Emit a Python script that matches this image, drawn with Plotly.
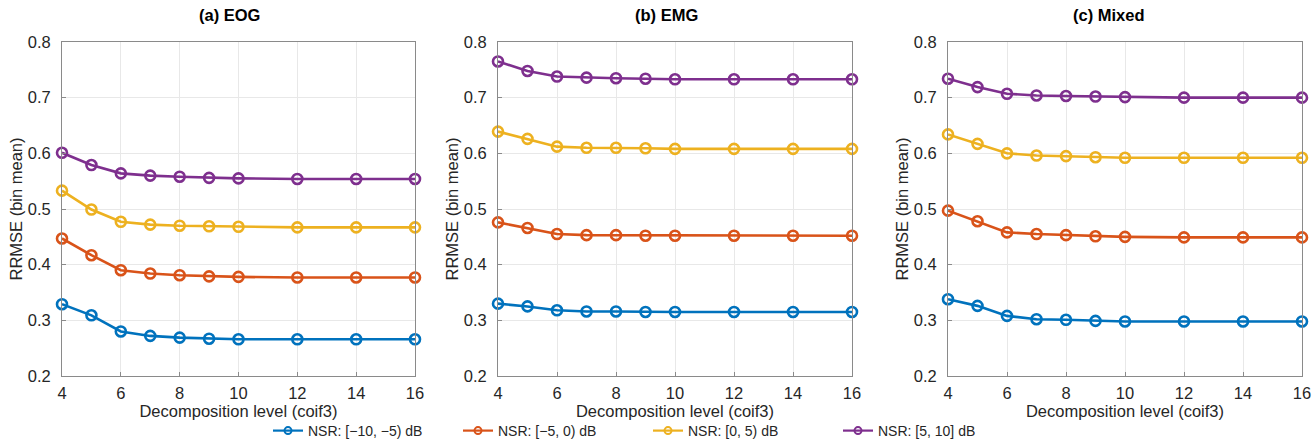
import plotly.graph_objects as go

levels = [4, 5, 6, 7, 8, 9, 10, 12, 14, 16]
series_names = ["NSR: [\u221210, \u22125) dB", "NSR: [\u22125, 0) dB", "NSR: [0, 5) dB", "NSR: [5, 10] dB"]
colors = ["#0072BD", "#D95319", "#EDB120", "#7E2F8E"]
panel_titles = ["(a) EOG", "(b) EMG", "(c) Mixed"]

eog_m10 = [0.329, 0.309, 0.280, 0.272, 0.269, 0.267, 0.266, 0.266, 0.266, 0.266]
eog_m5 = [0.447, 0.417, 0.390, 0.384, 0.381, 0.379, 0.378, 0.377, 0.377, 0.377]
eog_0 = [0.533, 0.499, 0.477, 0.472, 0.470, 0.469, 0.468, 0.467, 0.467, 0.467]
eog_5 = [0.601, 0.579, 0.564, 0.560, 0.558, 0.556, 0.555, 0.554, 0.554, 0.554]

emg_m10 = [0.330, 0.325, 0.318, 0.316, 0.316, 0.315, 0.315, 0.315, 0.315, 0.315]
emg_m5 = [0.476, 0.466, 0.455, 0.453, 0.453, 0.452, 0.452, 0.452, 0.452, 0.452]
emg_0 = [0.639, 0.626, 0.612, 0.610, 0.610, 0.609, 0.608, 0.608, 0.608, 0.608]
emg_5 = [0.765, 0.748, 0.738, 0.736, 0.735, 0.734, 0.733, 0.733, 0.733, 0.733]

mix_m10 = [0.338, 0.326, 0.308, 0.302, 0.301, 0.299, 0.298, 0.298, 0.298, 0.298]
mix_m5 = [0.497, 0.478, 0.458, 0.455, 0.453, 0.451, 0.450, 0.449, 0.449, 0.449]
mix_0 = [0.634, 0.617, 0.600, 0.596, 0.595, 0.593, 0.592, 0.592, 0.592, 0.592]
mix_5 = [0.734, 0.719, 0.707, 0.704, 0.703, 0.702, 0.701, 0.700, 0.700, 0.700]

panels = [
    [eog_m10, eog_m5, eog_0, eog_5],
    [emg_m10, emg_m5, emg_0, emg_5],
    [mix_m10, mix_m5, mix_0, mix_5],
]

W, H = 1313, 447
MB = 12                      # bottom margin (room for legend)
PH = H - MB                  # plot-area height in px
x_dom_px = [(62, 415), (498, 852), (948, 1302)]
title_x_px = [229, 666, 1109]
y_dom_px = (42, 376)


def fy(px_from_top):
    return (PH - px_from_top) / PH


fig = go.Figure()
font = "Liberation Sans, Arial, sans-serif"
tick_color = "#262626"
axis_color = "#8a8a8a"

for p, series in enumerate(panels):
    xa = "x" if p == 0 else f"x{p+1}"
    ya = "y" if p == 0 else f"y{p+1}"
    for s, vals in enumerate(series):
        fig.add_trace(go.Scatter(
            x=levels, y=vals, xaxis=xa, yaxis=ya,
            mode="lines+markers", name=series_names[s],
            line=dict(color=colors[s], width=2.6),
            marker=dict(symbol="circle-open", size=10, color=colors[s], line=dict(width=2.6, color=colors[s])),
            cliponaxis=False, showlegend=False,
        ))
    axis_common = dict(showline=True, linecolor=axis_color, linewidth=1, mirror=True,
                       showgrid=True, gridcolor="#E8E8E8", gridwidth=1, zeroline=False,
                       ticks="inside", ticklen=4, tickcolor=axis_color, automargin=False,
                       tickfont=dict(family=font, size=16.5, color=tick_color))
    x0, x1 = x_dom_px[p]
    fig.layout[("xaxis" if p == 0 else f"xaxis{p+1}")] = dict(
        domain=[x0 / W, x1 / W], range=[4, 16], tickvals=[4, 6, 8, 10, 12, 14, 16],
        anchor=ya, ticklabelstandoff=2,
        title=dict(text="Decomposition level (coif3)", font=dict(family=font, size=16.5, color=tick_color), standoff=2),
        **axis_common)
    fig.layout[("yaxis" if p == 0 else f"yaxis{p+1}")] = dict(
        domain=[fy(y_dom_px[1]), fy(y_dom_px[0])], range=[0.2, 0.8],
        tickvals=[0.2, 0.3, 0.4, 0.5, 0.6, 0.7, 0.8], tickformat=".1f",
        anchor=xa, ticklabelstandoff=7,
        title=dict(text="RRMSE (bin mean)", font=dict(family=font, size=16.5, color=tick_color), standoff=0),
        **axis_common)
    fig.add_annotation(text=f"<b>{panel_titles[p]}</b>", x=title_x_px[p] / W, y=fy(15),
                       xref="paper", yref="paper", showarrow=False, yanchor="middle", xanchor="center",
                       font=dict(family=font, size=16.5, color="#000000"))

# legend-only entries (smaller marker in the key, as in the reference)
for s in range(4):
    fig.add_trace(go.Scatter(
        x=[None], y=[None], mode="lines+markers", name=series_names[s],
        line=dict(color=colors[s], width=2.2),
        marker=dict(symbol="circle-open", size=7, color=colors[s], line=dict(width=2, color=colors[s])),
        showlegend=True,
    ))

fig.update_layout(
    width=W, height=H, margin=dict(l=0, r=0, t=0, b=MB),
    paper_bgcolor="white", plot_bgcolor="white",
    legend=dict(orientation="h", x=268 / W, xanchor="left", y=fy(H), yanchor="bottom",
                font=dict(family=font, size=14, color=tick_color), entrywidth=145, entrywidthmode="pixels",
                bgcolor="rgba(0,0,0,0)"),
)

fig.write_html("out.html")
